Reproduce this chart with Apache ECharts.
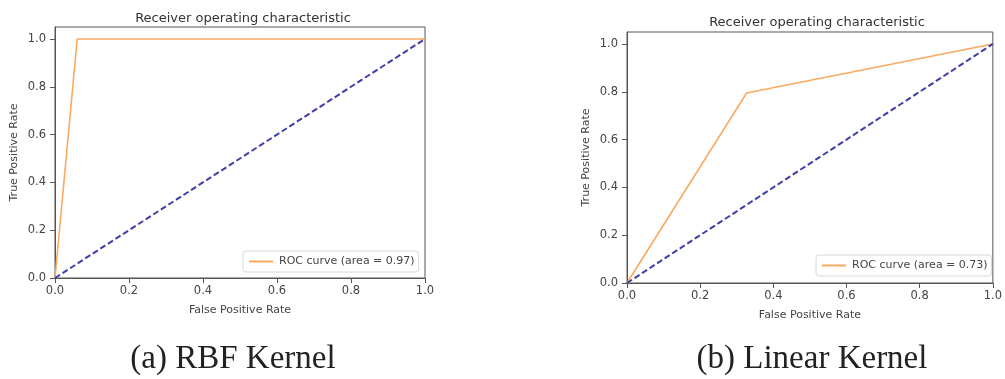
<!DOCTYPE html>
<html>
<head>
<meta charset="utf-8">
<script src="https://cdn.jsdelivr.net/npm/echarts@6/dist/echarts.min.js"></script>
<style>
  html, body { margin: 0; padding: 0; background: #fff; }
  #chart { width: 1005px; height: 379px; }
</style>
</head>
<body>
<div id="chart"></div>
<script>
// ROC points
const fprRbf = [0, 0.06, 1];
const tprRbf = [0, 1.0, 1];
const fprLinear = [0, 0.327, 1];
const tprLinear = [0, 0.795, 1];
const chanceLine = [0, 1];
const tickValues = [0, 0.2, 0.4, 0.6, 0.8, 1.0];
const rocNames = ['ROC curve (area = 0.97)', 'ROC curve (area = 0.73)'];
const captions = ['(a) RBF Kernel', '(b) Linear Kernel'];

const zip = (xs, ys) => xs.map((x, i) => [x, ys[i]]);

let myChart = echarts.init(document.getElementById('chart'));

const axisColor = '#555';
const labelStyle = {
  color: '#444',
  fontSize: 11.5,
  fontFamily: 'DejaVu Sans',
  formatter: v => v.toFixed(1)
};
const nameStyle = {color: '#444', fontSize: 11, fontFamily: 'DejaVu Sans'};

function xAxis(idx) {
  return {
    type: 'value', gridIndex: idx, min: 0, max: 1, interval: 0.2,
    name: 'False Positive Rate', nameLocation: 'middle', nameGap: 27,
    nameTextStyle: nameStyle,
    axisLine: {show: true, lineStyle: {color: axisColor}},
    axisTick: {show: true, length: 5, lineStyle: {color: axisColor}},
    axisLabel: Object.assign({margin: 7}, labelStyle),
    splitLine: {show: false}
  };
}
function yAxis(idx) {
  return {
    type: 'value', gridIndex: idx, min: 0, max: 1.05,
    name: 'True Positive Rate', nameLocation: 'middle', nameGap: 35,
    nameTextStyle: nameStyle,
    axisLine: {show: true, lineStyle: {color: axisColor}},
    axisTick: {show: true, length: 5, lineStyle: {color: axisColor}, customValues: tickValues},
    axisLabel: Object.assign({margin: 9, customValues: tickValues}, labelStyle),
    splitLine: {show: false}
  };
}

const rocStyle = {color: '#fca95f', width: 1.6};
const chanceStyle = {color: '#3e3ea6', width: 2, type: [6, 3]};
const titleStyle = {fontSize: 13, fontWeight: 'normal', color: '#333', fontFamily: 'DejaVu Sans'};
const captionStyle = {fontSize: 33, fontWeight: 'normal', color: '#222', fontFamily: 'Liberation Serif'};

function legend(name, left, top) {
  return {
    data: [name], left: left, top: top, itemWidth: 24, itemHeight: 10, itemGap: 6,
    padding: [5, 4, 5, 5], borderColor: '#d8d8d8', borderWidth: 1, borderRadius: 3,
    itemStyle: {opacity: 0},
    textStyle: {fontSize: 11, color: '#444', fontFamily: 'DejaVu Sans', padding: [0, 0, 0, 1]}
  };
}

myChart.setOption({
  animation: false,
  backgroundColor: '#fff',
  title: [
    {text: 'Receiver operating characteristic', left: 238, top: 7, textAlign: 'center', textStyle: titleStyle},
    {text: 'Receiver operating characteristic', left: 812, top: 11, textAlign: 'center', textStyle: titleStyle},
    {text: captions[0], left: 228, top: 338, textAlign: 'center', textStyle: captionStyle},
    {text: captions[1], left: 807, top: 338, textAlign: 'center', textStyle: captionStyle}
  ],
  legend: [legend(rocNames[0], 243, 251), legend(rocNames[1], 816, 255)],
  grid: [
    {left: 55, top: 27, width: 370, height: 251, show: true, borderColor: axisColor, borderWidth: 1},
    {left: 627, top: 32, width: 370, height: 251, show: true, borderColor: axisColor, borderWidth: 1}
  ],
  xAxis: [xAxis(0), xAxis(1)],
  yAxis: [yAxis(0), yAxis(1)],
  series: [
    {name: rocNames[0], type: 'line', xAxisIndex: 0, yAxisIndex: 0, symbol: 'none',
     color: rocStyle.color, lineStyle: rocStyle, data: zip(fprRbf, tprRbf)},
    {name: 'chance-a', type: 'line', xAxisIndex: 0, yAxisIndex: 0, symbol: 'none',
     color: chanceStyle.color, lineStyle: chanceStyle, data: zip(chanceLine, chanceLine)},
    {name: rocNames[1], type: 'line', xAxisIndex: 1, yAxisIndex: 1, symbol: 'none',
     color: rocStyle.color, lineStyle: rocStyle, data: zip(fprLinear, tprLinear)},
    {name: 'chance-b', type: 'line', xAxisIndex: 1, yAxisIndex: 1, symbol: 'none',
     color: chanceStyle.color, lineStyle: chanceStyle, data: zip(chanceLine, chanceLine)}
  ]
});
</script>
</body>
</html>
